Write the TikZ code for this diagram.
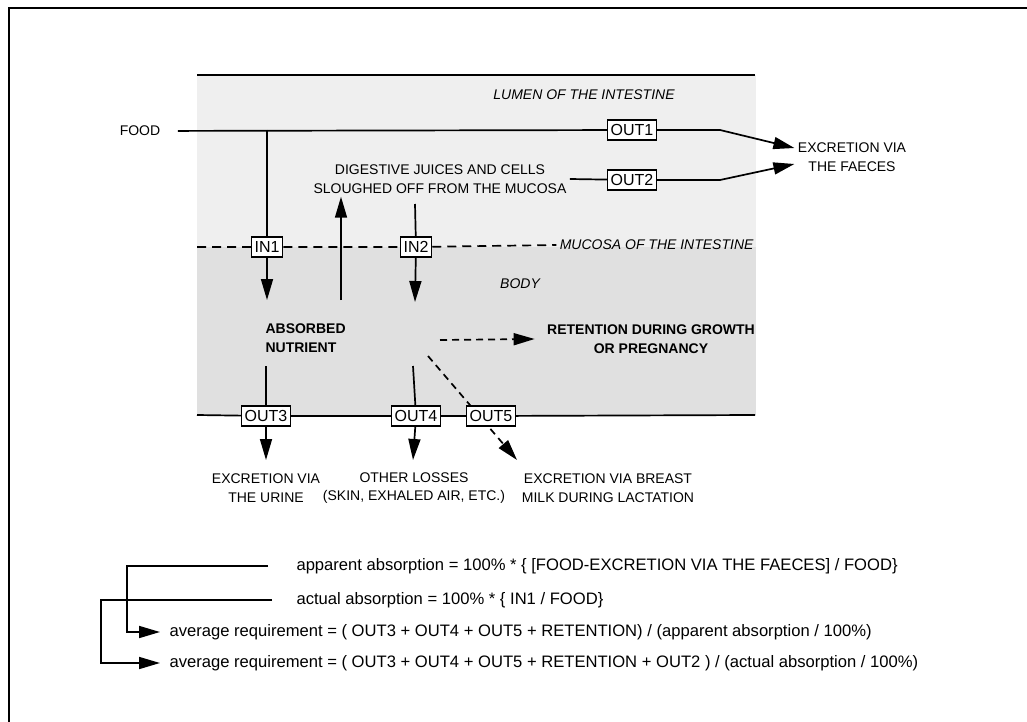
\documentclass[tikz,border=0pt]{standalone}
\usepackage{fontspec}
\setmainfont{Liberation Sans}
\usetikzlibrary{arrows.meta, positioning, backgrounds}
\definecolor{lumengray}{HTML}{EFEFEF}
\definecolor{bodygray}{HTML}{E0E0E0}
\tikzstyle{box} = [rectangle, draw, line width=1.6pt, fill=white, inner xsep=3pt, minimum height=20pt, font=\fontsize{16}{18}\selectfont]
\tikzstyle{txt} = [align=center, font=\fontsize{14}{18.5}\selectfont]
\tikzstyle{btxt} = [txt, font=\fontsize{14}{18.5}\selectfont\bfseries]
\tikzstyle{itxt} = [txt, font=\fontsize{14}{18.5}\selectfont\itshape]
\tikzstyle{formula} = [anchor=west, font=\fontsize{16.6}{19}\selectfont]
\tikzstyle{line} = [line width=1.7pt]
\tikzstyle{arrow} = [line, -{Triangle[length=21pt,width=12pt]}]
\tikzstyle{dasharrow} = [arrow, dash pattern=on 7pt off 5pt]

\begin{document}
\begin{tikzpicture}[x=1pt, y=-1pt]
\useasboundingbox (0,0) rectangle (1027,722);

% Frame
\draw[line width=2.4pt] (9,740) -- (9,8) -- (1040,8);

% Nodes for the intestine
\node (lumen) [itxt] at (584,95) {LUMEN OF THE INTESTINE};
\node (mucosa) [itxt, anchor=east] at (757,245) {MUCOSA OF THE INTESTINE};
\node (bodylbl) [itxt] at (520,284) {BODY};
\node (food) [txt] at (140,131) {FOOD};
\node (faeces) [txt] at (852,157) {EXCRETION VIA\\THE FAECES};
\node (juices) [txt] at (440,179) {DIGESTIVE JUICES AND CELLS\\SLOUGHED OFF FROM THE MUCOSA};
\node (absorbed) [btxt, align=left, anchor=west] at (262,338) {ABSORBED\\NUTRIENT};
\node (retention) [btxt] at (651,339) {RETENTION DURING GROWTH\\OR PREGNANCY};
\node (urine) [txt] at (266,488) {EXCRETION VIA\\THE URINE};
\node (losses) [txt] at (414,488) {OTHER LOSSES\\(SKIN, EXHALED AIR, ETC.)};
\node (milk) [txt] at (608,488) {EXCRETION VIA BREAST\\MILK DURING LACTATION};

% Flow boxes
\node (out1) [box] at (632,130) {OUT1};
\node (out2) [box] at (632,180) {OUT2};
\node (in1) [box] at (267,247) {IN1};
\node (in2) [box] at (416,247) {IN2};
\node (out3) [box] at (266,416) {OUT3};
\node (out4) [box] at (416,416) {OUT4};
\node (out5) [box] at (491,416) {OUT5};

% Bends and free ends
\coordinate (foodsplit) at (267,130);
\coordinate (out1end) at (720,130);
\coordinate (out2end) at (720,180);
\coordinate (in1end) at (267,300);
\coordinate (upstart) at (341,300);
\coordinate (in2start) at (415,204);
\coordinate (in2end) at (415,302);
\coordinate (out3start) at (266,366);
\coordinate (out3end) at (266,460);
\coordinate (out4start) at (413,366);
\coordinate (out4end) at (413,460);
\coordinate (poolright) at (440,340);
\coordinate (pooldown) at (428,356);
\coordinate (milkend) at (517,460);

% Layer borders
\draw[line] (197,75) -- (755,75);
\draw[line, dash pattern=on 9pt off 6pt] (197,247) -- (in1) -- (in2) -- (mucosa.west);
\draw[line] (197,415) -- (out3) -- (out4) -- (out5) -- (755,415);

% Arrows
\draw[line, shorten <=14pt] (food) -- (out1);
\draw[line] (out1) -- (out1end);
\draw[arrow] (out1end) -- ([yshift=9pt]faeces.west);
\draw[line] (juices.east) -- (out2) -- (out2end);
\draw[arrow] (out2end) -- ([yshift=-7pt]faeces.west);
\draw[line] (foodsplit) -- (in1);
\draw[arrow] (in1) -- (in1end);
\draw[arrow] (upstart) -- (upstart |- juices.south);
\draw[line] (in2start) -- (in2);
\draw[arrow] (in2) -- (in2end);
\draw[line] (out3start) -- (out3);
\draw[arrow] (out3) -- (out3end);
\draw[line] (out4start) -- (out4);
\draw[arrow] (out4) -- (out4end);
\draw[dasharrow] (poolright) -- ([xshift=-9pt]retention.west);

% Formulas
\node (appabs) [formula] at (293,566) {apparent absorption = 100\% * \{ [FOOD-EXCRETION VIA THE FAECES] / FOOD\}};
\node (actabs) [formula] at (293,600) {actual absorption = 100\% * \{ IN1 / FOOD\}};
\node (avgapp) [formula] at (166,632) {average requirement = ( OUT3 + OUT4 + OUT5 + RETENTION) / (apparent absorption / 100\%)};
\node (avgact) [formula] at (166,663) {average requirement = ( OUT3 + OUT4 + OUT5 + RETENTION + OUT2 ) / (actual absorption / 100\%)};

\draw[arrow] ([xshift=-25pt]appabs.west) -- ++(-141,0) |- ([xshift=-6pt]avgapp.west);
\draw[arrow] ([xshift=-21pt]actabs.west) -- ++(-171,0) |- ([xshift=-6pt]avgact.west);

% Background: bands and the path behind OUT5
\begin{scope}[on background layer]
\fill[lumengray] (197,75) rectangle (756,247);
\fill[bodygray] (197,247) rectangle (756,415);
\draw[dasharrow] (pooldown) -- (milkend);
\end{scope}

\end{tikzpicture}
\end{document}
